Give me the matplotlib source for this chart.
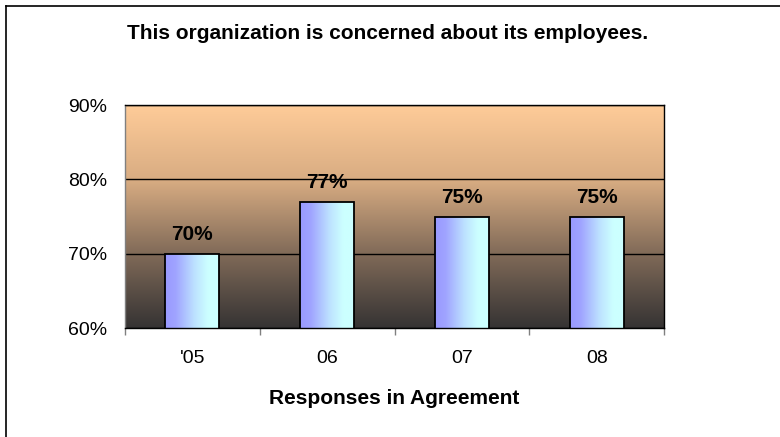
import numpy as np
import matplotlib.pyplot as plt
from matplotlib.colors import LinearSegmentedColormap
from matplotlib.lines import Line2D

plt.rcParams['font.family'] = ['Liberation Sans', 'DejaVu Sans']

categories = ["'05", "06", "07", "08"]
agree_pct = [70, 77, 75, 75]

fig = plt.figure(figsize=(7.8, 4.37), dpi=100)
ax = fig.add_axes([0.1603, 0.2494, 0.6910, 0.5103])

x = np.arange(len(categories))
ax.set_xlim(-0.5, len(categories) - 0.5)
ax.set_ylim(60, 90)

# plot area background: peach at the top fading to charcoal at the bottom
bg_cmap = LinearSegmentedColormap.from_list(
    "bg", [(0.0, "#353333"), (0.33, "#806a58"), (0.66, "#d8ac82"), (1.0, "#ffcc99")])
grad = np.linspace(0, 1, 256).reshape(-1, 1)
ax.imshow(grad, cmap=bg_cmap, origin="lower", aspect="auto",
          extent=(-0.5, len(categories) - 0.5, 60, 90), zorder=0)

# bars filled with a left-to-right lavender-to-cyan gradient
bar_cmap = LinearSegmentedColormap.from_list(
    "bar", [(0.0, "#9999ff"), (0.2, "#a0a4ff"), (0.55, "#bde2ff"), (0.8, "#ccffff"), (1.0, "#ccffff")])
hgrad = np.linspace(0, 1, 256).reshape(1, -1)
bars = ax.bar(x, agree_pct, width=0.4, bottom=0, facecolor="none",
              edgecolor="black", linewidth=1.3, zorder=3)
for rect in bars:
    x0, w, h = rect.get_x(), rect.get_width(), rect.get_height()
    im = ax.imshow(hgrad, cmap=bar_cmap, aspect="auto",
                   extent=(x0, x0 + w, 60, h), zorder=2)
    im.set_clip_path(rect)

for xi, v in zip(x, agree_pct):
    ax.text(xi, v + 1.3, f"{v}%", ha="center", va="bottom",
            fontsize=15, fontweight="bold", color="black", zorder=4)

ax.set_yticks([60, 70, 80, 90])
ax.set_yticklabels(["60%", "70%", "80%", "90%"])
ax.set_axisbelow(True)
ax.yaxis.grid(True, color="black", linewidth=1.0)
ax.tick_params(axis="y", length=0, pad=13, labelsize=14)

# boundaries between categories get the tick marks, labels sit in between
ax.set_xticks(np.arange(-0.5, len(categories), 1.0))
ax.set_xticklabels([])
ax.tick_params(axis="x", which="major", direction="out", length=5,
               color="#808080", width=1)
ax.set_xticks(x, minor=True)
ax.set_xticklabels(categories, minor=True)
ax.tick_params(axis="x", which="minor", length=0, pad=16, labelsize=14)

ax.set_xlabel("Responses in Agreement", fontsize=15, fontweight="bold", labelpad=16)

for side in ["top", "right", "bottom"]:
    ax.spines[side].set_color("black")
    ax.spines[side].set_linewidth(1.0)
ax.spines["left"].set_color("#808080")
ax.spines["left"].set_linewidth(1.0)

fig.text(0.497, 0.924, "This organization is concerned about its employees.",
         ha="center", va="center", fontsize=15, fontweight="bold")

# outer frame lines along the top and left edges
fig.add_artist(Line2D([6 / 780, 6 / 780], [0, 1 - 6 / 437],
                      transform=fig.transFigure, color="black", linewidth=1.2))
fig.add_artist(Line2D([6 / 780, 1], [1 - 6 / 437, 1 - 6 / 437],
                      transform=fig.transFigure, color="black", linewidth=1.2))

fig.savefig("out.png", dpi=100, facecolor="white")
